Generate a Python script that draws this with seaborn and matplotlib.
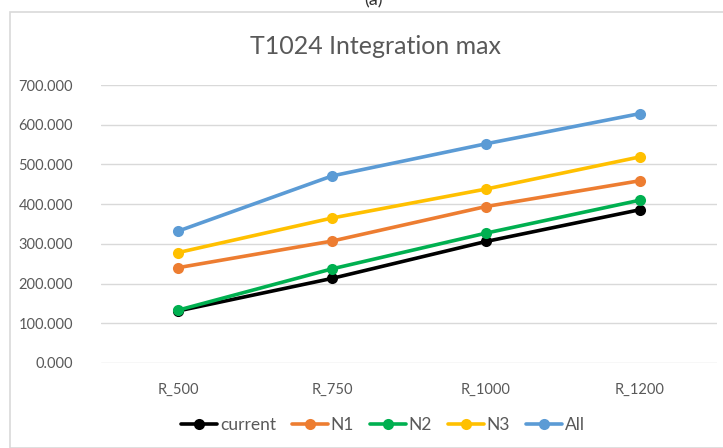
import numpy as np
import pandas as pd
import matplotlib
matplotlib.use("Agg")
import matplotlib.pyplot as plt
from matplotlib.patches import Rectangle
import seaborn as sns

# values
categories = ["R_500", "R_750", "R_1000", "R_1200"]
current = [131, 213, 306, 386]
n1 = [240, 307, 394, 459]
n2 = [133, 237, 327, 410]
n3 = [278, 365, 438, 519]
all_vals = [332, 471, 552, 628]
series_names = ["current", "N1", "N2", "N3", "All"]
colors = ["#000000", "#ED7D31", "#00B050", "#FFC000", "#5B9BD5"]
yticks = [0, 100, 200, 300, 400, 500, 600, 700]

# long format for seaborn
rows = []
for name, vals in zip(series_names, [current, n1, n2, n3, all_vals]):
    for i, v in enumerate(vals):
        rows.append({"cat": categories[i], "x": i, "value": v, "series": name})
df = pd.DataFrame(rows)

sns.set_theme(style="white")
plt.rcParams["font.family"] = ["Lato", "DejaVu Sans"]

fig = plt.figure(figsize=(7.23, 4.48), dpi=100)
ax = fig.add_axes([101 / 723, 1 - 363 / 448, 616 / 723, 278 / 448])

# chart border like the spreadsheet frame
fig.patches.append(Rectangle((10 / 723, 0), 1, 1 - 12 / 448, transform=fig.transFigure,
                             fill=False, edgecolor="#D9D9D9", linewidth=1.2))
# caption above the frame, cut by the top edge as in the reference
fig.text(373 / 723, 1.0, "(a)", ha="center", va="center", fontsize=13, color="#333333")

sns.lineplot(data=df, x="x", y="value", hue="series", hue_order=series_names,
             palette=colors, marker="o", markersize=8, markeredgewidth=0,
             linewidth=2.6, ax=ax, legend=False, sort=False)

ax.set_xlim(-0.5, 3.5)
ax.set_ylim(0, 700)
ax.set_yticks(yticks)
ax.set_yticklabels([f"{v:.3f}" for v in yticks])
ax.set_xticks(range(len(categories)))
ax.set_xticklabels(categories)
ax.tick_params(axis="both", length=0, labelsize=10.5, labelcolor="#595959")
ax.tick_params(axis="x", pad=14)
ax.tick_params(axis="y", pad=20)
ax.grid(axis="y", color="#D9D9D9", linewidth=1)
ax.set_axisbelow(True)
for s in ax.spines.values():
    s.set_visible(False)
ax.set_xlabel("")
ax.set_ylabel("")

fig.text(375 / 723, 1 - 46 / 448, "T1024 Integration max", ha="center", va="center",
         fontsize=18, color="#595959")

handles = [plt.Line2D([], [], color=c, marker="o", markersize=8, markeredgewidth=0,
                      linewidth=2.6) for c in colors]
fig.legend(handles, series_names, loc="center", bbox_to_anchor=(383 / 723, 1 - 425 / 448),
           ncol=5, frameon=False, fontsize=12.5, labelcolor="#595959",
           handlelength=2.1, handletextpad=0.15, columnspacing=0.9)

fig.savefig("out.png", dpi=100)
